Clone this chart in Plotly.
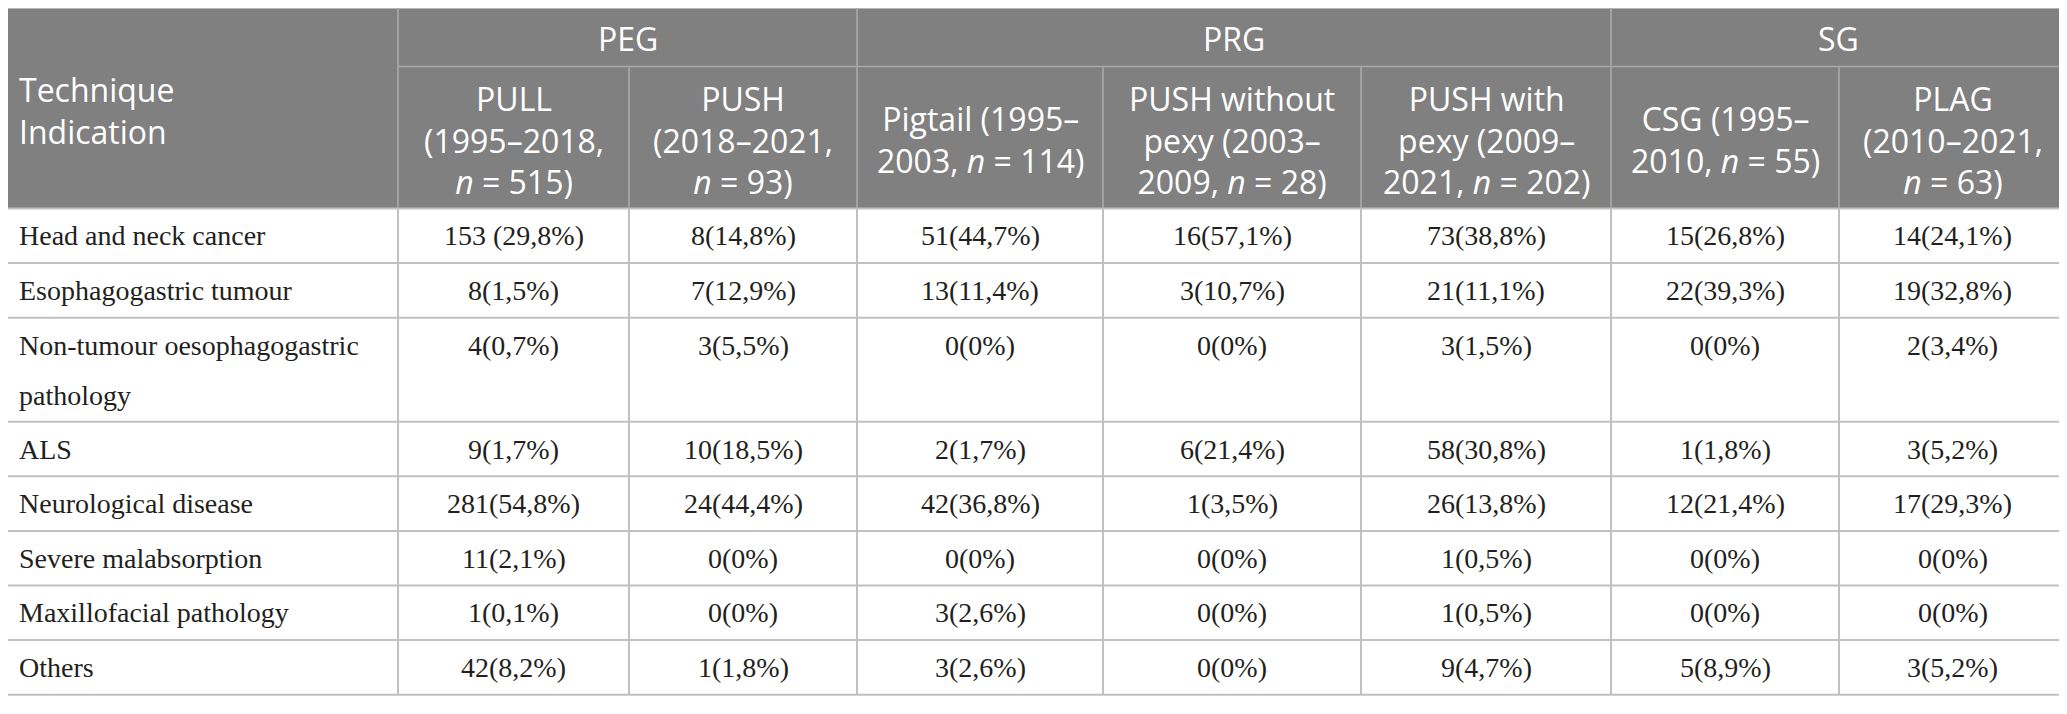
import plotly.graph_objects as go

# ---------------- data ----------------
indications = [
    "Head and neck cancer",
    "Esophagogastric tumour",
    "Non-tumour oesophagogastric<br>pathology",
    "ALS",
    "Neurological disease",
    "Severe malabsorption",
    "Maxillofacial pathology",
    "Others",
]

groups = ["PEG", "PRG", "SG"]
group_spans = [2, 3, 2]

sub_headers = [
    "PULL<br>(1995–2018,<br><i>n</i> = 515)",
    "PUSH<br>(2018–2021,<br><i>n</i> = 93)",
    "Pigtail (1995–<br>2003, <i>n</i> = 114)",
    "PUSH without<br>pexy (2003–<br>2009, <i>n</i> = 28)",
    "PUSH with<br>pexy (2009–<br>2021, <i>n</i> = 202)",
    "CSG (1995–<br>2010, <i>n</i> = 55)",
    "PLAG<br>(2010–2021,<br><i>n</i> = 63)",
]

pull = ["153 (29,8%)", "8(1,5%)", "4(0,7%)", "9(1,7%)", "281(54,8%)", "11(2,1%)", "1(0,1%)", "42(8,2%)"]
push = ["8(14,8%)", "7(12,9%)", "3(5,5%)", "10(18,5%)", "24(44,4%)", "0(0%)", "0(0%)", "1(1,8%)"]
pigtail = ["51(44,7%)", "13(11,4%)", "0(0%)", "2(1,7%)", "42(36,8%)", "0(0%)", "3(2,6%)", "3(2,6%)"]
push_without_pexy = ["16(57,1%)", "3(10,7%)", "0(0%)", "6(21,4%)", "1(3,5%)", "0(0%)", "0(0%)", "0(0%)"]
push_with_pexy = ["73(38,8%)", "21(11,1%)", "3(1,5%)", "58(30,8%)", "26(13,8%)", "1(0,5%)", "1(0,5%)", "9(4,7%)"]
csg = ["15(26,8%)", "22(39,3%)", "0(0%)", "1(1,8%)", "12(21,4%)", "0(0%)", "0(0%)", "5(8,9%)"]
plag = ["14(24,1%)", "19(32,8%)", "2(3,4%)", "3(5,2%)", "17(29,3%)", "0(0%)", "0(0%)", "3(5,2%)"]

columns = [pull, push, pigtail, push_without_pexy, push_with_pexy, csg, plag]

# ---------------- layout geometry (page pixels) ----------------
W, H = 2067, 714
OFF = 8  # default page body margin
col_edges = [1, 398, 629, 857, 1103, 1361, 1611, 1839, 2066]
top = 8
group_bottom = 66.5
header_bottom = 208.5
single_h = 54.6
double_h = 104
row_heights = [double_h if "<br>" in t else single_h for t in indications]
row_edges = [header_bottom]
for h in row_heights:
    row_edges.append(row_edges[-1] + h)

HEADER_BG = "#7f807f"
HEADER_LINE = "#a9aaa9"
BODY_LINE = "#c0c0c0"
TEXT = "#231f20"
SANS = "Open Sans"
SERIF = "Liberation Serif"
HFS = 32
BFS = 28
B_LS = 50   # body line spacing for wrapped first-column text

shapes = []
ann = []

def line(x0, y0, x1, y1, color, w=1.6):
    shapes.append(dict(type="line", xref="x", yref="y", x0=x0, y0=y0, x1=x1, y1=y1,
                       line=dict(color=color, width=w), layer="above"))

# header background
shapes.append(dict(type="rect", xref="x", yref="y", x0=col_edges[0], y0=top,
                   x1=col_edges[-1], y1=header_bottom, fillcolor=HEADER_BG,
                   line=dict(width=0), layer="below"))

# header lines
line(col_edges[0], top, col_edges[-1], top, "#b5b5b5", 2)
line(col_edges[1], group_bottom, col_edges[-1], group_bottom, HEADER_LINE)
group_starts = []
gi = 0
for span in group_spans:
    group_starts.append(gi)
    gi += span
for i in range(1, len(col_edges) - 1):
    full = (i - 1) in group_starts
    line(col_edges[i], top if full else group_bottom, col_edges[i], header_bottom, HEADER_LINE)
line(col_edges[0], top, col_edges[0], header_bottom, HEADER_LINE)
line(col_edges[-1], top, col_edges[-1], header_bottom, HEADER_LINE)

# body lines
for y in row_edges:
    line(col_edges[0], y, col_edges[-1], y, BODY_LINE, 2)
for x in col_edges:
    line(x, header_bottom, x, row_edges[-1], BODY_LINE, 2)

def add_text(text, x, y, family, size, xanchor, color):
    ann.append(dict(x=x, y=y, xref="x", yref="y", text=text, showarrow=False,
                    xanchor=xanchor, yanchor="middle", align=xanchor if xanchor != "center" else "center",
                    font=dict(family=family, size=size, color=color)))

# header text
add_text("Technique<br>Indication", 17, (top + header_bottom) / 2 + 2, SANS, HFS, "left", "white")
gi = 0
for g, span in zip(groups, group_spans):
    xc = (col_edges[gi + 1] + col_edges[gi + 1 + span]) / 2
    add_text(g, xc, (top + group_bottom) / 2 + 1, SANS, HFS, "center", "white")
    gi += span
for j, sh in enumerate(sub_headers):
    xc = (col_edges[j + 1] + col_edges[j + 2]) / 2
    add_text(sh, xc, (group_bottom + header_bottom) / 2 + 2, SANS, HFS, "center", "white")

# body text
for r, ind in enumerate(indications):
    first_c = row_edges[r] + single_h / 2
    for k, part in enumerate(ind.split("<br>")):
        add_text(part, 17, first_c + k * B_LS, SERIF, BFS, "left", TEXT)
    for j, col in enumerate(columns):
        xc = (col_edges[j + 1] + col_edges[j + 2]) / 2
        add_text(col[r], xc, first_c, SERIF, BFS, "center", TEXT)

fig = go.Figure()
fig.add_trace(go.Scatter(x=[OFF, W], y=[OFF, H], mode="markers", marker=dict(opacity=0),
                         hoverinfo="skip", showlegend=False))
fig.update_layout(
    width=W - OFF, height=H - OFF,
    margin=dict(l=0, r=0, t=0, b=0),
    paper_bgcolor="white", plot_bgcolor="white",
    xaxis=dict(range=[OFF, W], visible=False, fixedrange=True),
    yaxis=dict(range=[H, OFF], visible=False, fixedrange=True),
    shapes=shapes, annotations=ann, showlegend=False,
)
fig.write_html("out.html", config={"displayModeBar": False})
